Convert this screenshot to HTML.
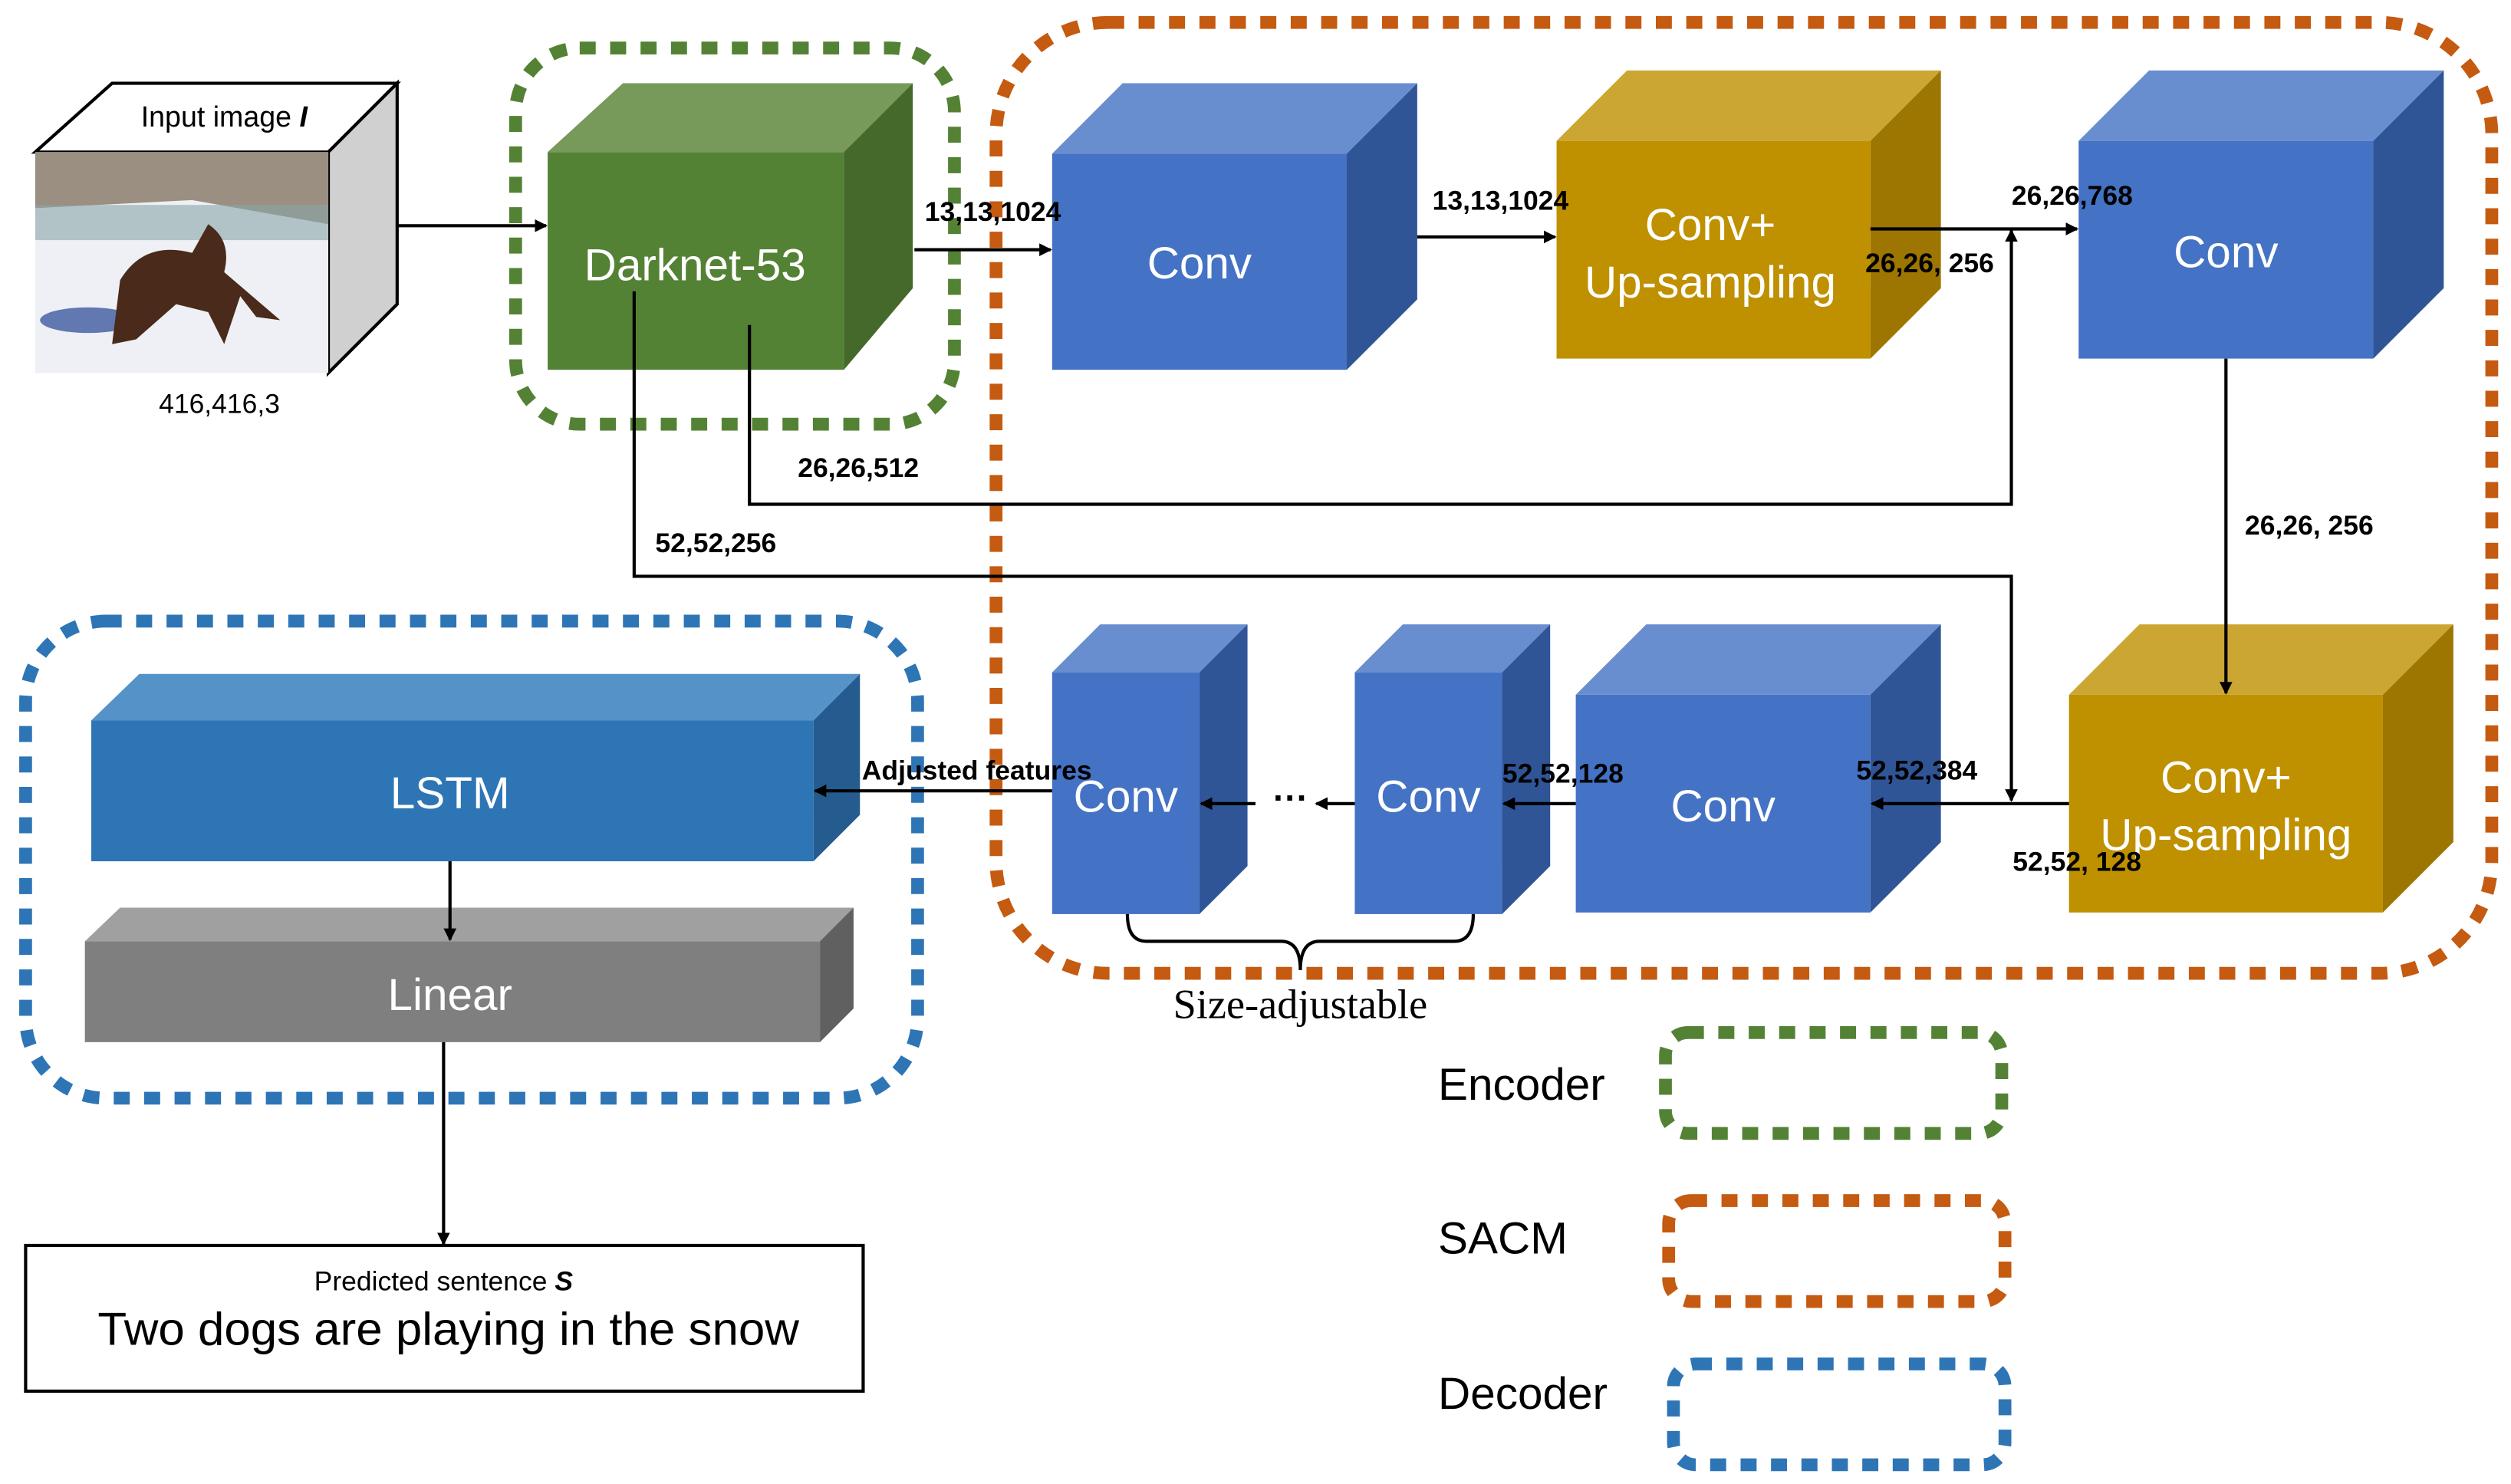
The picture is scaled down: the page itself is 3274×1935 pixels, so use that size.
<!DOCTYPE html>
<html><head><meta charset="utf-8"><style>
html,body{margin:0;padding:0;background:#fff;}
svg{display:block;}
text{font-family:"Liberation Sans",sans-serif;}
.b{font-weight:bold;font-size:17px;fill:#000;}
.w{fill:#fff;font-size:28px;text-anchor:middle;}
</style></head><body>
<svg width="3274" height="1935" viewBox="0 0 1568 927" preserveAspectRatio="none" xmlns="http://www.w3.org/2000/svg">
<defs>
<marker id="ar" markerWidth="8" markerHeight="8" refX="7" refY="4" orient="auto" markerUnits="userSpaceOnUse"><path d="M0,0 L8,4 L0,8 z" fill="#000"/></marker>
</defs>
<rect width="1568" height="927" fill="#fff"/>
<rect x="322" y="30" width="274" height="235" rx="40" fill="none" stroke="#548235" stroke-width="8" stroke-dasharray="10,9"/>
<rect x="622" y="14" width="934" height="594" rx="70" fill="none" stroke="#c55a11" stroke-width="8" stroke-dasharray="10,9"/>
<rect x="16" y="388" width="557" height="298" rx="50" fill="none" stroke="#2e75b6" stroke-width="8" stroke-dasharray="10,9"/>
<!-- input cube -->
<polygon points="22,95 70,52 248,52 205,95" fill="#fff" stroke="#000" stroke-width="2"/>
<polygon points="205,95 248,52 248,190 205,233" fill="#d0d0d0" stroke="#000" stroke-width="2"/>
<rect x="22" y="95" width="183" height="138" fill="#eef0f5"/>
<polygon points="22,95 205,95 205,140 120,125 22,130" fill="#9a8f80"/>
<rect x="22" y="128" width="183" height="22" fill="#8aa5a8" opacity="0.6"/>
<ellipse cx="55" cy="200" rx="30" ry="8" fill="#3d5aa0" opacity="0.8"/>
<path d="M70,215 L75,175 Q90,150 120,158 L130,140 Q145,150 140,170 L175,200 L160,198 L150,185 L140,215 L130,195 L110,190 L85,212 Z" fill="#4a2a1a"/>
<text x="140" y="79" font-size="18" text-anchor="middle">Input image <tspan font-weight="bold" font-style="italic">I</tspan></text>
<text x="137" y="258" font-size="17" text-anchor="middle">416,416,3</text>
<!-- darknet -->
<polygon points="342,95 389,52 570,52 527,95" fill="#77995a"/>
<polygon points="527,95 570,52 570,180 527,231" fill="#44692b"/>
<rect x="342" y="95" width="185" height="136" fill="#548235"/>
<text x="434" y="175" class="w">Darknet-53</text>
<polygon points="657,96 701,52 885,52 841,96" fill="#698ed0"/>
<polygon points="841,96 885,52 885,187 841,231" fill="#2f5597"/>
<rect x="657" y="96" width="184" height="135" fill="#4472c4"/>
<text x="749" y="174" class="w">Conv</text>
<polygon points="972,88 1016,44 1212,44 1168,88" fill="#cca633"/>
<polygon points="1168,88 1212,44 1212,180 1168,224" fill="#9c7600"/>
<rect x="972" y="88" width="196" height="136" fill="#bf9000"/>
<text x="1068" y="150" class="w">Conv+</text>
<text x="1068" y="186" class="w">Up-sampling</text>
<polygon points="1298,88 1342,44 1526,44 1482,88" fill="#698ed0"/>
<polygon points="1482,88 1526,44 1526,180 1482,224" fill="#2f5597"/>
<rect x="1298" y="88" width="184" height="136" fill="#4472c4"/>
<text x="1390" y="167" class="w">Conv</text>
<polygon points="1292,434 1336,390 1532,390 1488,434" fill="#cca633"/>
<polygon points="1488,434 1532,390 1532,526 1488,570" fill="#9c7600"/>
<rect x="1292" y="434" width="196" height="136" fill="#bf9000"/>
<text x="1390" y="495" class="w">Conv+</text>
<text x="1390" y="531" class="w">Up-sampling</text>
<polygon points="984,434 1028,390 1212,390 1168,434" fill="#698ed0"/>
<polygon points="1168,434 1212,390 1212,526 1168,570" fill="#2f5597"/>
<rect x="984" y="434" width="184" height="136" fill="#4472c4"/>
<text x="1076" y="513" class="w">Conv</text>
<polygon points="846,420 876,390 968,390 938,420" fill="#698ed0"/>
<polygon points="938,420 968,390 968,541 938,571" fill="#2f5597"/>
<rect x="846" y="420" width="92" height="151" fill="#4472c4"/>
<text x="892" y="507" class="w">Conv</text>
<polygon points="657,420 687,390 779,390 749,420" fill="#698ed0"/>
<polygon points="749,420 779,390 779,541 749,571" fill="#2f5597"/>
<rect x="657" y="420" width="92" height="151" fill="#4472c4"/>
<text x="703" y="507" class="w">Conv</text>
<polygon points="57,450 87,421 537,421 508,450" fill="#5592c8"/>
<polygon points="508,450 537,421 537,509 508,538" fill="#245c8f"/>
<rect x="57" y="450" width="451" height="88" fill="#2e75b6"/>
<text x="281" y="505" class="w">LSTM</text>
<polygon points="53,588 75,567 533,567 512,588" fill="#a0a0a0"/>
<polygon points="512,588 533,567 533,630 512,651" fill="#606060"/>
<rect x="53" y="588" width="459" height="63" fill="#7f7f7f"/>
<text x="281" y="631" class="w">Linear</text>
<rect x="16" y="778" width="523" height="91" fill="#fff" stroke="#000" stroke-width="2"/>
<text x="277" y="806" font-size="17" text-anchor="middle">Predicted sentence <tspan font-weight="bold" font-style="italic">S</tspan></text>
<text x="280" y="840" font-size="29" text-anchor="middle" textLength="438" lengthAdjust="spacingAndGlyphs">Two dogs are playing in the snow</text>
<g stroke="#000" stroke-width="2" fill="none">
<line x1="248" y1="141" x2="341" y2="141" marker-end="url(#ar)"/>
<line x1="571" y1="156" x2="656" y2="156" marker-end="url(#ar)"/>
<line x1="885" y1="148" x2="971" y2="148" marker-end="url(#ar)"/>
<line x1="1168" y1="143" x2="1297" y2="143" marker-end="url(#ar)"/>
<polyline points="468,203 468,315 1256,315 1256,144" marker-end="url(#ar)"/>
<polyline points="396,182 396,360 1256,360 1256,500" marker-end="url(#ar)"/>
<line x1="1390" y1="224" x2="1390" y2="433" marker-end="url(#ar)"/>
<line x1="1292" y1="502" x2="1169" y2="502" marker-end="url(#ar)"/>
<line x1="984" y1="502" x2="939" y2="502" marker-end="url(#ar)"/>
<line x1="846" y1="502" x2="822" y2="502" marker-end="url(#ar)"/>
<line x1="784" y1="502" x2="750" y2="502" marker-end="url(#ar)"/>
<line x1="657" y1="494" x2="509" y2="494" marker-end="url(#ar)"/>
<line x1="281" y1="538" x2="281" y2="587" marker-end="url(#ar)"/>
<line x1="277" y1="651" x2="277" y2="777" marker-end="url(#ar)"/>
<path d="M704,571 Q704,588 716,588 L800,588 Q812,588 812,606 Q812,588 824,588 L908,588 Q920,588 920,571"/>
</g>
<text x="806" y="506" font-size="22" text-anchor="middle" font-weight="bold">···</text>
<text class="b" x="620" y="138" text-anchor="middle">13,13,1024</text>
<text class="b" x="937" y="131" text-anchor="middle">13,13,1024</text>
<text class="b" x="1294" y="128" text-anchor="middle">26,26,768</text>
<text class="b" x="1205" y="170" text-anchor="middle">26,26, 256</text>
<text class="b" x="536" y="298" text-anchor="middle">26,26,512</text>
<text class="b" x="447" y="345" text-anchor="middle">52,52,256</text>
<text class="b" x="1442" y="334" text-anchor="middle">26,26, 256</text>
<text class="b" x="1197" y="487" text-anchor="middle">52,52,384</text>
<text class="b" x="1297" y="544" text-anchor="middle">52,52, 128</text>
<text class="b" x="976" y="489" text-anchor="middle">52,52,128</text>
<text class="b" x="610" y="487" text-anchor="middle">Adjusted features</text>
<text x="812" y="636" font-size="26" text-anchor="middle" style="font-family:'Liberation Serif',serif">Size-adjustable</text>
<text x="898" y="687" font-size="28">Encoder</text>
<rect x="1040" y="645" width="210" height="63" rx="14" fill="none" stroke="#548235" stroke-width="8" stroke-dasharray="10,9"/>
<text x="898" y="783" font-size="28">SACM</text>
<rect x="1042" y="750" width="210" height="63" rx="14" fill="none" stroke="#c55a11" stroke-width="8" stroke-dasharray="10,9"/>
<text x="898" y="880" font-size="28">Decoder</text>
<rect x="1045" y="852" width="207" height="63" rx="14" fill="none" stroke="#2e75b6" stroke-width="8" stroke-dasharray="10,9"/>
</svg>
</body></html>
